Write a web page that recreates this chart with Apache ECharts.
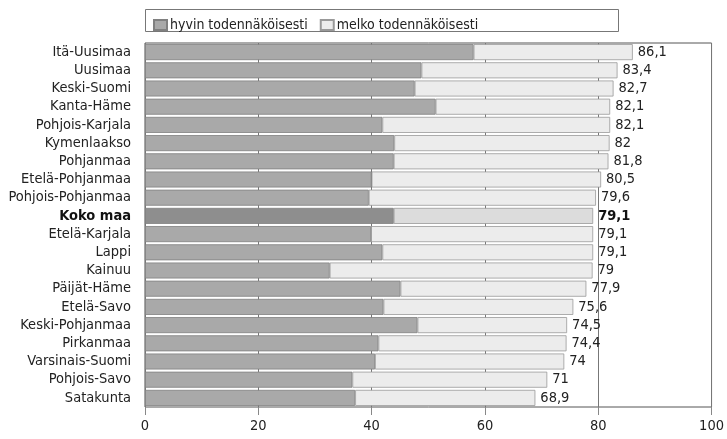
<!DOCTYPE html>
<html><head><meta charset="utf-8">
<script src="https://cdn.jsdelivr.net/npm/echarts@6/dist/echarts.min.js"></script>
<style>html,body{margin:0;padding:0;background:#fff}#c{width:727px;height:439px}</style>
</head><body><div id="c"></div>
<script>
const categories = ["Itä-Uusimaa","Uusimaa","Keski-Suomi","Kanta-Häme","Pohjois-Karjala","Kymenlaakso","Pohjanmaa","Etelä-Pohjanmaa","Pohjois-Pohjanmaa","Koko maa","Etelä-Karjala","Lappi","Kainuu","Päijät-Häme","Etelä-Savo","Keski-Pohjanmaa","Pirkanmaa","Varsinais-Suomi","Pohjois-Savo","Satakunta"];
const totals = [86.1,83.4,82.7,82.1,82.1,82,81.8,80.5,79.6,79.1,79.1,79.1,79,77.9,75.6,74.5,74.4,74,71,68.9];
const hyvin = [58.0,48.8,47.6,51.3,41.9,44.0,43.9,40.0,39.5,43.9,39.9,41.9,32.6,45.1,42.1,48.1,41.2,40.6,36.6,37.1];
const melko = totals.map((t,i)=>Math.round((t-hyvin[i])*10)/10);
const xTicks = [0,20,40,60,80,100];
const seriesNames = ["hyvin todennäköisesti","melko todennäköisesti"];
const highlight = "Koko maa";

const FONT = "'DejaVu Sans Condensed', sans-serif";
const FS = 14.5;
const chart = echarts.init(document.getElementById('c'));
const hiIdx = categories.indexOf(highlight);
chart.setOption({
  animation:false,
  textStyle:{fontFamily:FONT},
  graphic:[{type:'rect',shape:{x:145.5,y:9.5,width:473,height:22},style:{fill:'none',stroke:'#777',lineWidth:1}}],
  legend:{left:148,top:13,itemWidth:13,itemHeight:10,itemGap:12,
    textStyle:{fontSize:14,color:'#222',fontFamily:FONT,padding:[0,0,0,-2]},
    data:seriesNames.map(n=>({name:n,icon:'rect'}))},
  grid:{left:145,right:15,top:43,bottom:32,show:true,borderColor:'#555',borderWidth:1},
  xAxis:{type:'value',min:0,max:100,interval:20,
    axisLine:{show:false},
    axisTick:{show:true,length:8,lineStyle:{color:'#888'}},
    axisLabel:{fontSize:FS,color:'#222',margin:12,fontFamily:FONT},
    splitLine:{show:true,lineStyle:{color:'#777',width:1}}},
  yAxis:{type:'category',data:categories,inverse:true,
    axisLine:{show:false},axisTick:{show:false},
    axisLabel:{interval:0,fontSize:FS,color:'#222',margin:14,fontFamily:FONT,
      formatter:(v)=>v===highlight?'{b|'+v+'}':v,
      rich:{b:{fontWeight:'bold',fontSize:FS,color:'#111',fontFamily:FONT}}}},
  series:[
    {name:seriesNames[0],type:'bar',stack:'s',barCategoryGap:'12%',
      itemStyle:{color:'#a9a9a9',borderColor:'#808080',borderWidth:0.8},
      data:hyvin.map((v,i)=>i===hiIdx?{value:v,itemStyle:{color:'#8e8e8e'}}:v)},
    {name:seriesNames[1],type:'bar',stack:'s',barCategoryGap:'12%',
      itemStyle:{color:'#ececec',borderColor:'#999',borderWidth:0.8},
      data:melko.map((v,i)=>i===hiIdx?{value:v,itemStyle:{color:'#dcdcdc'}}:v),
      label:{show:true,position:'right',distance:5,fontSize:FS,color:'#222',fontFamily:FONT,
        formatter:(p)=>{const s=String(totals[p.dataIndex]).replace('.',',');return p.dataIndex===hiIdx?'{b|'+s+'}':s;},
        rich:{b:{fontWeight:'bold',fontSize:FS,color:'#111',fontFamily:FONT}}}}
  ]
});
</script></body></html>
